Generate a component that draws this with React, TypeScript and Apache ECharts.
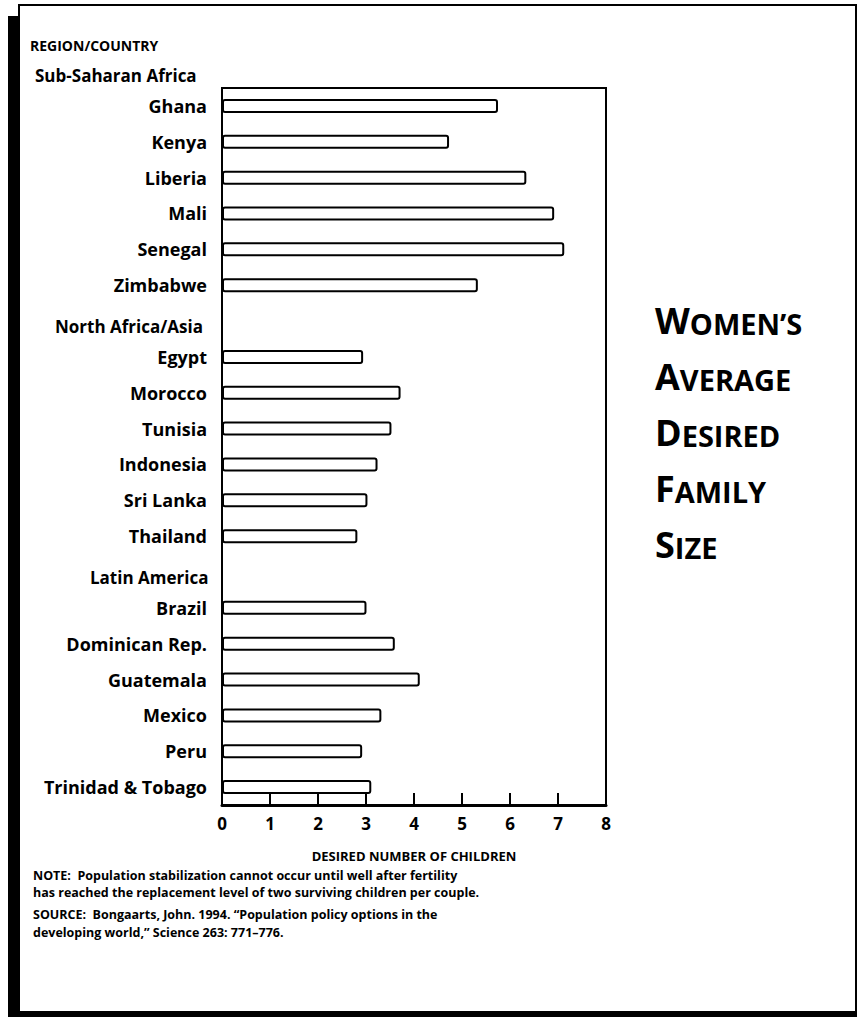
import React, { useEffect, useRef } from 'react';
import * as echarts from 'echarts';

const regions = ['Sub-Saharan Africa', 'North Africa/Asia', 'Latin America'];
const subSaharanCountries = ['Ghana', 'Kenya', 'Liberia', 'Mali', 'Senegal', 'Zimbabwe'];
const subSaharanValues = [5.75, 4.73, 6.34, 6.92, 7.13, 5.33];
const northAfricaAsiaCountries = ['Egypt', 'Morocco', 'Tunisia', 'Indonesia', 'Sri Lanka', 'Thailand'];
const northAfricaAsiaValues = [2.94, 3.72, 3.53, 3.24, 3.03, 2.82];
const latinAmericaCountries = ['Brazil', 'Dominican Rep.', 'Guatemala', 'Mexico', 'Peru', 'Trinidad & Tobago'];
const latinAmericaValues = [3.01, 3.6, 4.12, 3.32, 2.92, 3.11];
const xMin = 0;
const xMax = 8;
const xInterval = 1;

const axisTitle = 'DESIRED NUMBER OF CHILDREN';
const headerTitle = 'REGION/COUNTRY';
const chartTitleLines = [
  ['W', 'OMEN\u2019S'],
  ['A', 'VERAGE'],
  ['D', 'ESIRED'],
  ['F', 'AMILY'],
  ['S', 'IZE'],
];
const noteLines = [
  'NOTE:  Population stabilization cannot occur until well after fertility',
  'has reached the replacement level of two surviving children per couple.',
];
const sourceLines = [
  'SOURCE:  Bongaarts, John. 1994. \u201CPopulation policy options in the',
  'developing world,\u201D Science 263: 771\u2013776.',
];

const groupCountries = [subSaharanCountries, northAfricaAsiaCountries, latinAmericaCountries];
const groupValues = [subSaharanValues, northAfricaAsiaValues, latinAmericaValues];

const FONT = '"Open Sans", Lato, sans-serif';

export default function App() {
  const ref = useRef<HTMLDivElement>(null);
  useEffect(() => {
    document.body.style.margin = '0';
    if (!ref.current) return;
    const chart = echarts.init(ref.current, undefined, { renderer: 'svg' });

    const categories: string[] = [];
    const data: (number | string)[] = [];
    groupCountries.forEach((list, gi) => {
      if (gi > 0) {
        categories.push('__gap' + gi);
        data.push('-');
      }
      list.forEach((c, i) => {
        categories.push(c);
        data.push(groupValues[gi][i]);
      });
    });

    chart.setOption({
      animation: false,
      backgroundColor: '#fff',
      grid: {
        left: 222,
        right: 252,
        top: 88,
        bottom: 219,
        show: true,
        borderColor: '#000',
        borderWidth: 2,
        backgroundColor: 'transparent',
      },
      xAxis: {
        type: 'value',
        min: xMin,
        max: xMax,
        interval: xInterval,
        splitLine: { show: false },
        axisLine: { show: true, lineStyle: { color: '#000', width: 3 } },
        axisTick: { show: true, inside: true, length: 12, lineStyle: { color: '#000', width: 2 } },
        axisLabel: {
          color: '#000',
          fontFamily: FONT,
          fontWeight: 'bold',
          fontSize: 17,
          margin: 10,
        },
        name: axisTitle,
        nameLocation: 'middle',
        nameGap: 43,
        nameTextStyle: {
          color: '#000',
          fontFamily: FONT,
          fontWeight: 'bold',
          fontSize: 13,
          lineHeight: 15,
        },
      },
      yAxis: {
        type: 'category',
        inverse: true,
        data: categories,
        axisLine: { show: true, lineStyle: { color: '#000', width: 2 } },
        axisTick: { show: false },
        axisLabel: {
          color: '#000',
          fontFamily: FONT,
          fontWeight: 'bold',
          fontSize: 18,
          margin: 15,
          formatter: (v: string) => (v.indexOf('__gap') === 0 ? '' : v),
        },
      },
      series: [
        {
          type: 'bar',
          data,
          barWidth: 14,
          silent: true,
          itemStyle: { color: '#fff', borderColor: '#000', borderWidth: 2, borderRadius: 2 },
        },
      ],
    });

    const headerX = [35, 55, 90];
    const headerGraphics = regions.map((r, gi) => {
      const y = chart.convertToPixel({ yAxisIndex: 0 }, groupCountries[gi][0]) as number;
      return {
        type: 'text',
        x: headerX[gi],
        y: y - 30,
        style: {
          text: r,
          fill: '#000',
          font: 'bold 17px ' + FONT,
          verticalAlign: 'middle',
          align: 'left',
        },
      };
    });

    const titleGraphics = chartTitleLines.map((parts, i) => ({
      type: 'text',
      x: 655,
      y: 320 + i * 56,
      style: {
        text: '{a|' + parts[0] + '}{b|' + parts[1] + '}',
        verticalAlign: 'middle',
        rich: {
          a: { fontSize: 36, fontWeight: 'bold', fontFamily: FONT, fill: '#000', color: '#000' },
          b: { fontSize: 29, fontWeight: 'bold', fontFamily: FONT, fill: '#000', color: '#000', verticalAlign: 'bottom' },
        },
      },
    }));

    const footLines = [...noteLines, ...sourceLines];
    const footY = [875, 892, 914, 932];
    const footGraphics = footLines.map((t, i) => ({
      type: 'text',
      x: 33,
      y: footY[i],
      style: {
        text: t,
        fill: '#000',
        font: 'bold 12.5px ' + FONT,
        lineHeight: 14,
        verticalAlign: 'middle',
      },
    }));

    chart.setOption({
      graphic: [
        { type: 'rect', shape: { x: 19, y: 5, width: 837, height: 1008 }, style: { fill: 'none', stroke: '#000', lineWidth: 2 } },
        { type: 'rect', shape: { x: 8, y: 16, width: 10, height: 1001 }, style: { fill: '#000' } },
        { type: 'rect', shape: { x: 8, y: 1011, width: 849, height: 6 }, style: { fill: '#000' } },
        {
          type: 'text',
          x: 30,
          y: 45,
          style: { text: headerTitle, fill: '#000', font: 'bold 14px ' + FONT, verticalAlign: 'middle' },
        },
        ...headerGraphics,
        ...titleGraphics,
        ...footGraphics,
      ],
    });

    return () => chart.dispose();
  }, []);
  return <div ref={ref} style={{ width: 858, height: 1024 }} />;
}
